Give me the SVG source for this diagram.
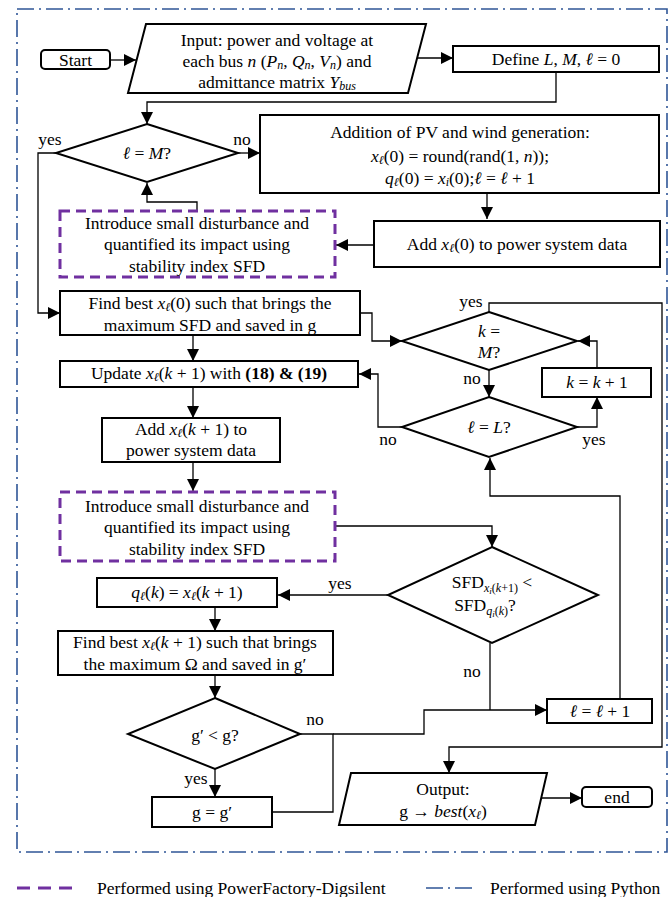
<svg xmlns="http://www.w3.org/2000/svg" width="670" height="897" viewBox="0 0 670 897">
<defs>
<marker id="ah" markerUnits="userSpaceOnUse" markerWidth="12" markerHeight="12" viewBox="0 0 10 10" refX="10" refY="5" orient="auto">
<path d="M0,0 L10,5 L0,10 z" fill="#000"/>
</marker>
<style>
text{font-family:"Liberation Serif","Times New Roman",serif;font-size:17.5px;fill:#000}
.c{text-anchor:middle}
.i{font-style:italic}
.s{font-size:12px}
.b{font-weight:bold}
.box{fill:#fff;stroke:#000;stroke-width:2}
.pd{fill:none;stroke:#7030A0;stroke-width:3;stroke-dasharray:10 6}
.ln{fill:none;stroke:#000;stroke-width:1.3}
.ar{fill:none;stroke:#000;stroke-width:1.3;marker-end:url(#ah)}
.bd{fill:none;stroke:#2F5597;stroke-width:1.6;stroke-dasharray:17 5 2 5}
</style>
</defs>
<rect x="17" y="9" width="650" height="843" class="bd"/>

<g id="connectors">
<path class="ar" d="M110,60 H136"/>
<path class="ar" d="M417,58 H453"/>
<path class="ar" d="M556,72 V102 H147 V124"/>
<path class="ar" d="M56,153 H38 V313 H60"/>
<path class="ar" d="M238,153 H260"/>
<path class="ar" d="M487,193 V219"/>
<path class="ar" d="M374,245 H336"/>
<path class="ar" d="M197,210 V202 H147 V183"/>
<path class="ar" d="M360,313 H372 V341 H402"/>
<path class="ar" d="M193,335 V361"/>
<path class="ar" d="M489,370 V397"/>
<path class="ar" d="M402,427 H378 V374 H359"/>
<path class="ar" d="M577,427 H597 V397"/>
<path class="ar" d="M597,368 V341 H578"/>
<path class="ar" d="M489,312 V303 H662 V747 H449 V773"/>
<path class="ar" d="M193,387 V418"/>
<path class="ar" d="M193,462 V491"/>
<path class="ar" d="M336,526 H492 V547"/>
<path class="ar" d="M388,595 H278"/>
<path class="ar" d="M215,607 V631"/>
<path class="ar" d="M215,675 V698"/>
<path class="ar" d="M215,769 V797"/>
<path class="ln" d="M272,812 H333 V734 H300"/>
<path class="ar" d="M333,734 H424 V710 H547"/>
<path class="ln" d="M490,643 V710"/>
<path class="ar" d="M620,699 V496 H490 V458"/>
<path class="ar" d="M541,798 H582"/>
</g>

<g id="start">
<rect x="41" y="50" width="69" height="19" rx="4" class="box"/>
<text x="75.5" y="66" class="c">Start</text>
</g>

<g id="input">
<polygon points="146,24 426,24 408,93 128,93" class="box"/>
<text x="277" y="46" class="c">Input: power and voltage at</text>
<text x="277" y="67" class="c">each bus <tspan class="i">n</tspan> (<tspan class="i">P</tspan><tspan class="s i" baseline-shift="-2">n</tspan>, <tspan class="i">Q</tspan><tspan class="s i" baseline-shift="-2">n</tspan>, <tspan class="i">V</tspan><tspan class="s i" baseline-shift="-2">n</tspan>) and</text>
<text x="277" y="88" class="c">admittance matrix <tspan class="i">Y</tspan><tspan class="s i" baseline-shift="-2">bus</tspan></text>
</g>

<g id="define">
<rect x="453" y="46" width="206" height="26" class="box"/>
<text x="556" y="65" class="c">Define <tspan class="i">L</tspan>, <tspan class="i">M</tspan>, <tspan class="i">ℓ</tspan> = 0</text>
</g>

<g id="dec-lM">
<polygon points="147,124 238,153 147,182 56,153" class="box"/>
<text x="147" y="159" class="c"><tspan class="i">ℓ</tspan> = <tspan class="i">M</tspan>?</text>
<text x="50" y="145" class="c">yes</text>
<text x="242" y="145" class="c">no</text>
</g>

<g id="addition">
<rect x="260" y="115" width="399" height="78" class="box"/>
<text x="460" y="138" class="c">Addition of PV and wind generation:</text>
<text x="460" y="162" class="c"><tspan class="i">x</tspan><tspan class="s i" baseline-shift="-2">ℓ</tspan>(0) = round(rand(1, <tspan class="i">n</tspan>));</text>
<text x="460" y="184" class="c"><tspan class="i">q</tspan><tspan class="s i" baseline-shift="-2">ℓ</tspan>(0) = <tspan class="i">x</tspan><tspan class="s i" baseline-shift="-2">i</tspan>(0);<tspan class="i">ℓ</tspan> = <tspan class="i">ℓ</tspan> + 1</text>
</g>

<g id="add0">
<rect x="374" y="221" width="286" height="46" class="box"/>
<text x="517" y="250" class="c">Add <tspan class="i">x</tspan><tspan class="s i" baseline-shift="-2">ℓ</tspan>(0) to power system data</text>
</g>

<g id="disturb1">
<rect x="60" y="211" width="275" height="66" class="pd"/>
<text x="197" y="229" class="c">Introduce small disturbance and</text>
<text x="197" y="250" class="c">quantified its impact using</text>
<text x="197" y="272" class="c">stability index SFD</text>
</g>

<g id="findbest1">
<rect x="60" y="291" width="300" height="44" class="box"/>
<text x="210" y="309" class="c">Find best <tspan class="i">x</tspan><tspan class="s i" baseline-shift="-2">ℓ</tspan>(0) such that brings the</text>
<text x="210" y="331" class="c">maximum SFD and saved in g</text>
</g>

<g id="dec-kM">
<polygon points="489,312 577,341 489,370 402,341" class="box"/>
<text x="489" y="337" class="c"><tspan class="i">k</tspan> =</text>
<text x="489" y="358" class="c"><tspan class="i">M</tspan>?</text>
<text x="471" y="307" class="c">yes</text>
<text x="472" y="384" class="c">no</text>
</g>

<g id="update">
<rect x="60" y="361" width="298" height="26" class="box"/>
<text x="209" y="379" class="c">Update <tspan class="i">x</tspan><tspan class="s i" baseline-shift="-2">ℓ</tspan>(<tspan class="i">k</tspan> + 1) with <tspan class="b">(18) &amp; (19)</tspan></text>
</g>

<g id="kinc">
<rect x="542" y="368" width="109" height="29" class="box"/>
<text x="597" y="388" class="c"><tspan class="i">k</tspan> = <tspan class="i">k</tspan> + 1</text>
</g>

<g id="dec-lL">
<polygon points="489,397 577,427 489,457 402,427" class="box"/>
<text x="489" y="433" class="c"><tspan class="i">ℓ</tspan> = <tspan class="i">L</tspan>?</text>
<text x="388" y="445" class="c">no</text>
<text x="594" y="445" class="c">yes</text>
</g>

<g id="addk">
<rect x="102" y="418" width="178" height="44" class="box"/>
<text x="191" y="435" class="c">Add <tspan class="i">x</tspan><tspan class="s i" baseline-shift="-2">ℓ</tspan>(<tspan class="i">k</tspan> + 1) to</text>
<text x="191" y="456" class="c">power system data</text>
</g>

<g id="disturb2">
<rect x="60" y="492" width="275" height="69" class="pd"/>
<text x="197" y="512" class="c">Introduce small disturbance and</text>
<text x="197" y="533" class="c">quantified its impact using</text>
<text x="197" y="555" class="c">stability index SFD</text>
</g>

<g id="dec-sfd">
<polygon points="492,547 598,595 492,643 388,595" class="box"/>
<text x="492" y="588" class="c">SFD<tspan class="s" baseline-shift="-4"><tspan class="i">x</tspan><tspan class="i" font-size="9" baseline-shift="-2">i</tspan>(<tspan class="i">k</tspan>+1)</tspan> &lt;</text>
<text x="485" y="611" class="c">SFD<tspan class="s" baseline-shift="-4"><tspan class="i">q</tspan><tspan class="i" font-size="9" baseline-shift="-2">i</tspan>(<tspan class="i">k</tspan>)</tspan>?</text>
<text x="340" y="589" class="c">yes</text>
<text x="472" y="677" class="c">no</text>
</g>

<g id="qk">
<rect x="97" y="578" width="180" height="29" class="box"/>
<text x="187" y="598" class="c"><tspan class="i">q</tspan><tspan class="s i" baseline-shift="-2">ℓ</tspan>(<tspan class="i">k</tspan>) = <tspan class="i">x</tspan><tspan class="s i" baseline-shift="-2">ℓ</tspan>(<tspan class="i">k</tspan> + 1)</text>
</g>

<g id="findbest2">
<rect x="58" y="631" width="275" height="44" class="box"/>
<text x="195" y="648" class="c">Find best <tspan class="i">x</tspan><tspan class="s i" baseline-shift="-2">ℓ</tspan>(<tspan class="i">k</tspan> + 1) such that brings</text>
<text x="195" y="670" class="c">the maximum Ω and saved in g′</text>
</g>

<g id="dec-g">
<polygon points="215,698 300,734 215,769 128,734" class="box"/>
<text x="215" y="741" class="c">g′ &lt; g?</text>
<text x="315" y="725" class="c">no</text>
<text x="196" y="784" class="c">yes</text>
</g>

<g id="gset">
<rect x="152" y="797" width="120" height="30" class="box"/>
<text x="212" y="818" class="c">g = g′</text>
</g>

<g id="linc">
<rect x="547" y="699" width="105" height="24" class="box"/>
<text x="600" y="717" class="c"><tspan class="i">ℓ</tspan> = <tspan class="i">ℓ</tspan> + 1</text>
</g>

<g id="output">
<polygon points="351,773 547,773 535,825 339,825" class="box"/>
<text x="443" y="795" class="c">Output:</text>
<text x="443" y="817" class="c">g → <tspan class="i">best</tspan>(<tspan class="i">x</tspan><tspan class="s i" baseline-shift="-2">ℓ</tspan>)</text>
</g>

<g id="end">
<rect x="582" y="787" width="70" height="20" rx="4" class="box"/>
<text x="617" y="803" class="c">end</text>
</g>

<g id="legend">
<path d="M17,888 H77" fill="none" stroke="#7030A0" stroke-width="3" stroke-dasharray="13 8"/>
<text x="97" y="894">Performed using PowerFactory-Digsilent</text>
<path d="M426,888 H475" fill="none" stroke="#2F5597" stroke-width="1.6" stroke-dasharray="17 5 2 5"/>
<text x="490" y="894">Performed using Python</text>
</g>
</svg>
